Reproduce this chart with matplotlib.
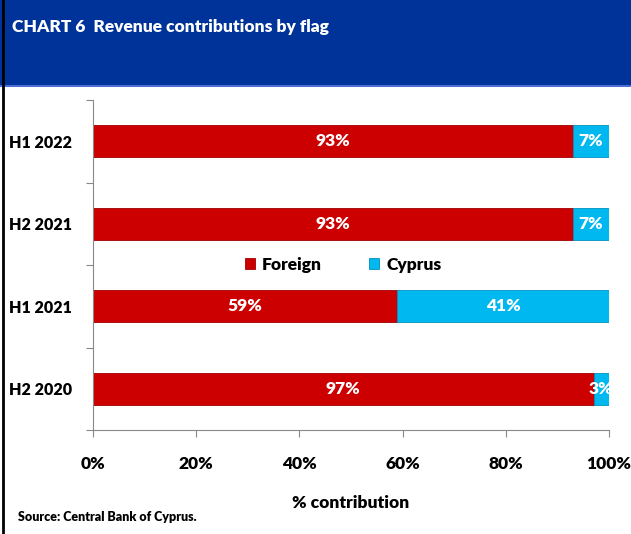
import matplotlib.pyplot as plt
from matplotlib.patches import Rectangle
from matplotlib.lines import Line2D
from matplotlib import font_manager

periods = ["H2 2020", "H1 2021", "H2 2021", "H1 2022"]
foreign = [97, 59, 93, 93]
cyprus = [3, 41, 7, 7]
xticks = [0, 20, 40, 60, 80, 100]

print(sorted({(f.name, f.weight) for f in font_manager.fontManager.ttflist if f.name in ("Lato", "Open Sans", "Roboto", "Inter")}))

plt.rcParams['font.family'] = ['Lato', 'DejaVu Sans']
plt.rcParams['font.weight'] = 'heavy'
wt = "heavy"

W, H = 631, 534
fig = plt.figure(figsize=(W / 100, H / 100), dpi=100)

# header band
fig.patches.append(Rectangle((0, 1 - 85 / H), 1, 85 / H, transform=fig.transFigure,
                             facecolor="#003399", edgecolor="none", zorder=0))
fig.patches.append(Rectangle((0, 1 - 87 / H), 1, 2 / H, transform=fig.transFigure,
                             facecolor="#4a6fd8", edgecolor="none", zorder=0))
fig.lines.append(Line2D([2.5 / W, 2.5 / W], [0, 1], transform=fig.transFigure,
                        color="black", lw=2))
fig.text(12 / W, 1 - 27 / H, "CHART 6  Revenue contributions by flag", color="white",
         fontsize=12.5, fontweight=wt, va="center", ha="left")

ax = fig.add_axes([93 / W, 1 - 430 / H, (609 - 93) / W, (430 - 100) / H])

y = list(range(len(periods)))
h = 0.39
ax.barh(y, foreign, height=h, color="#CC0000", edgecolor="#a00000", lw=0.6, label="Foreign")
ax.barh(y, cyprus, left=foreign, height=h, color="#00B8F0", edgecolor="#0090c0", lw=0.6,
        label="Cyprus")

for i in y:
    ax.text(foreign[i] / 2, i, f"{foreign[i]}%", color="white", fontsize=12.5,
            fontweight=wt, ha="center", va="center")
    ax.text(foreign[i] + cyprus[i] / 2, i, f"{cyprus[i]}%", color="white", fontsize=12.5,
            fontweight=wt, ha="center", va="center")

ax.set_xlim(0, 100)
ax.set_ylim(-0.5, 3.5)
ax.set_xticks(xticks)
ax.set_xticklabels([f"{t}%" for t in xticks], fontsize=12.5, fontweight=wt)
ax.set_yticks([-0.5, 0.5, 1.5, 2.5, 3.5])
ax.set_yticklabels([])
ax.set_yticks(y, minor=True)
ax.set_yticklabels(periods, minor=True, fontsize=11.5, fontweight=wt)
ax.tick_params(axis="y", which="minor", length=0, pad=15)
ax.tick_params(axis="y", which="major", length=5, color="#888888")
ax.tick_params(axis="x", length=5, color="#888888", pad=14)
for s in ["top", "right"]:
    ax.spines[s].set_visible(False)
for s in ["left", "bottom"]:
    ax.spines[s].set_color("#888888")
ax.set_xlabel("% contribution", fontsize=12.5, fontweight=wt, labelpad=16)

ax.legend(loc="center", bbox_to_anchor=(0.485, 0.5), ncol=2, frameon=False, fontsize=12.5,
          handlelength=0.6, handleheight=0.6, columnspacing=2.7, handletextpad=0.4)

fig.text(18 / W, 1 - 517 / H, "Source: Central Bank of Cyprus.", fontsize=9,
         fontweight=wt, va="center", ha="left")

fig.savefig("out.png", dpi=100)
